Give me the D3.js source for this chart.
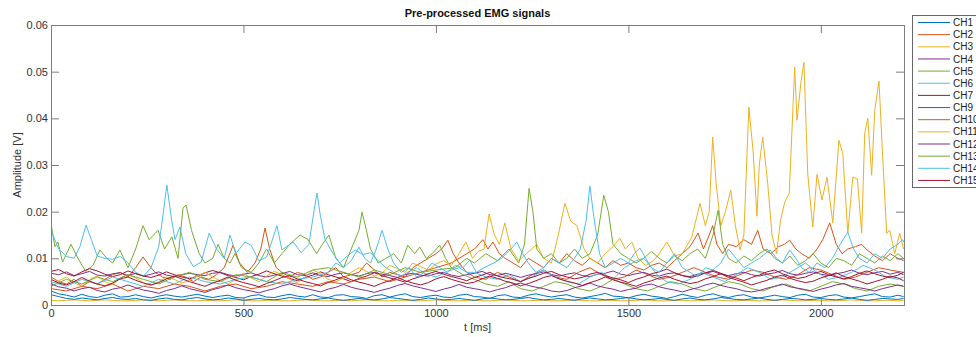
<!DOCTYPE html>
<html>
<head>
<meta charset="utf-8">
<script src="https://cdn.jsdelivr.net/npm/d3@7"></script>
<style>
  body { margin: 0; background: #fff; }
  svg { display: block; }
  text { font-family: "Liberation Sans", Arial, Helvetica, sans-serif; }
</style>
</head>
<body>
<svg id="chart" width="976" height="337"></svg>
<script>
// Pre-processed EMG signals, 14 channels (CH8 absent)
const channels = ["CH1", "CH2", "CH3", "CH4", "CH5", "CH6", "CH7", "CH9",
                  "CH10", "CH11", "CH12", "CH13", "CH14", "CH15"];
const palette = ["#0072BD", "#D95319", "#EDB120", "#7E2F8E", "#77AC30", "#4DBEEE", "#A2142F"];
const xTicks = [0, 500, 1000, 1500, 2000];
const yTicks = [0, 0.01, 0.02, 0.03, 0.04, 0.05, 0.06];
const tEnd = 2216;

// Amplitudes are stored in units of 0.1 mV
const UNIT = 1e-4;

// Steady channels share a 20 ms sample grid (last sample at 2215 ms)
const gridTimes = d3.range(0, 2181, 20).concat([2200, 2215]);

const ch1 = [
  30,24,21,17,23,18,16,21,24,17,  18,22,18,15,19,22,19,17,20,23,
  19,16,19,21,16,15,20,22,17,16,  20,23,19,17,22,17,16,21,22,18,
  17,14,20,22,17,21,24,18,16,19,  21,17,16,21,23,18,17,14,20,22,
  17,16,21,24,20,17,20,22,17,15,  18,21,25,19,18,15,20,23,19,17,
  14,18,23,19,16,21,24,19,16,20,  22,17,15,18,21,18,16,21,23,17,
  16,20,22,17,15,18,21,24,18,17,  21,18
];
const ch3 = [
  10,9,10,11,10,9,10,11,10,9,  9,10,11,10,9,10,11,10,9,9,
  10,9,9,10,11,10,9,9,10,10,  9,9,10,11,10,9,9,10,10,9,
  10,11,10,9,9,10,10,9,9,10,  11,10,9,9,10,10,9,9,10,11,
  10,9,9,10,10,9,9,10,11,10,  9,9,10,10,9,9,10,11,10,9,
  9,10,10,9,9,10,11,10,9,9,  10,10,9,9,10,11,10,9,9,10,
  10,9,9,10,11,10,9,9,10,10,  9,10
];
const ch4 = [
  68,65,71,63,67,72,64,62,67,69,  63,68,62,66,71,64,61,65,68,65,
  63,68,70,65,62,66,69,63,60,64,  67,72,65,63,69,63,61,66,69,65,
  62,67,70,66,63,59,65,68,64,62,  67,70,64,61,65,68,72,65,63,68,
  64,59,64,67,71,65,62,66,69,63,  61,66,68,73,66,63,67,70,64,62,
  67,69,63,61,66,68,72,66,63,67,  70,65,62,66,69,74,67,64,68,71,
  66,63,67,70,75,68,65,69,72,66,  70,65
];
const ch7 = [
  72,76,67,62,71,78,73,66,61,65,  73,67,62,59,64,71,65,60,56,62,
  69,74,69,63,59,54,61,66,73,67,  62,57,52,59,64,71,65,60,56,50,
  57,62,69,63,58,54,49,56,61,67,  72,66,61,57,52,59,64,70,62,58,
  55,50,57,62,68,72,65,60,56,59,  66,70,63,58,54,48,55,60,67,71,
  77,69,63,59,62,69,74,68,62,58,  52,59,64,71,75,67,61,57,60,67,
  72,65,60,56,61,68,73,67,62,59,  64,70
];
const ch9 = [
  22,18,14,12,15,13,11,14,16,13,  12,14,11,10,13,15,12,11,14,16,
  13,11,12,15,13,10,12,14,12,11,  13,16,14,12,11,13,15,12,10,12,
  14,12,11,13,16,14,12,10,12,15,  13,11,12,14,12,10,13,15,13,11,
  12,14,16,13,11,12,14,12,10,13,  15,13,11,12,14,16,13,11,12,14,
  12,10,13,15,12,11,13,16,14,12,  11,13,15,12,10,12,14,13,11,12,
  14,12,11,13,15,12,10,12,14,13,  12,14
];
const ch12 = [
  45,39,36,30,35,38,31,28,34,37,  43,37,32,29,25,31,35,41,35,31,
  27,33,37,43,37,33,30,26,31,35,  41,45,40,36,32,28,34,38,44,38,
  34,31,27,32,36,42,46,41,37,33,  29,34,38,44,38,35,32,28,33,37,
  43,47,42,38,35,30,28,31,37,41,  47,41,37,34,29,33,36,42,45,39,
  35,32,28,33,37,43,47,42,38,35,  30,28,31,36,40,45,39,36,33,29,
  34,38,43,46,40,37,34,30,35,39,  43,40
];
const ch15 = [
  55,47,43,50,59,51,45,41,47,56,  60,53,47,43,48,56,62,56,50,45,
  40,47,53,60,53,48,44,39,46,52,  59,63,56,50,46,41,48,54,61,54,
  49,45,40,47,52,59,52,47,43,48,  56,61,55,50,46,49,56,62,57,51,
  47,41,46,52,59,63,56,51,47,42,  48,53,60,54,49,45,40,47,52,58,
  62,55,50,46,49,56,61,67,59,54,  49,43,48,53,60,64,57,52,48,51,
  58,63,69,61,56,51,45,50,55,62,  58,52
];

// Bursting channels: [time in ms, amplitude]
const ch2 = [
  [0,60],[20,50],[40,45],[60,55],[80,40],[100,50],[120,45],[140,55],[160,65],[180,70],
  [200,60],[220,80],[239,103],[255,85],[270,70],[290,60],[310,55],[330,65],[350,60],[370,50],
  [390,60],[410,55],[430,65],[450,80],[473,128],[490,90],[510,70],[530,90],[545,120],[556,165],
  [568,120],[585,80],[600,70],[620,60],[640,70],[660,65],[680,55],[700,60],[720,70],[740,80],
  [760,60],[780,65],[800,70],[820,90],[840,75],[860,60],[880,70],[900,65],[920,60],[940,80],
  [960,90],[980,100],[1000,110],[1015,120],[1031,139],[1045,110],[1060,90],[1080,70],[1100,60],[1130,55],
  [1160,70],[1190,60],[1220,50],[1250,65],[1280,75],[1310,60],[1340,55],[1370,70],[1400,80],[1430,65],
  [1460,55],[1490,60],[1520,75],[1550,65],[1580,55],[1610,60],[1640,70],[1670,80],[1700,70],[1730,60],
  [1760,55],[1790,65],[1820,75],[1850,70],[1880,60],[1910,55],[1940,65],[1970,80],[2000,75],[2030,65],
  [2060,55],[2090,60],[2120,70],[2150,80],[2180,75],[2215,70]
];
const ch5 = [
  [0,175],[10,125],[18,135],[30,92],[52,130],[70,100],[90,72],[110,86],[127,118],[145,100],
  [160,90],[179,118],[200,80],[220,120],[239,170],[255,140],[278,160],[295,120],[314,146],[330,100],
  [343,208],[351,214],[365,160],[385,110],[400,90],[420,100],[434,130],[450,100],[465,90],[478,110],
  [495,80],[520,70],[540,90],[560,120],[580,90],[600,110],[620,130],[647,150],[668,140],[690,110],
  [705,130],[722,150],[740,100],[760,80],[780,120],[800,160],[808,199],[818,165],[830,120],[850,90],
  [870,100],[890,110],[910,90],[927,128],[945,110],[958,124],[975,100],[990,110],[1010,128],[1025,100],
  [1040,80],[1070,65],[1100,55],[1130,45],[1160,40],[1190,50],[1220,35],[1250,30],[1280,40],[1310,50],
  [1340,45],[1370,35],[1400,30],[1430,40],[1460,55],[1490,45],[1520,35],[1550,30],[1580,40],[1610,50],
  [1640,45],[1670,35],[1700,30],[1730,40],[1760,50],[1790,45],[1820,35],[1850,30],[1880,40],[1910,45],
  [1940,35],[1970,30],[2000,40],[2030,50],[2060,45],[2090,35],[2120,30],[2150,40],[2180,45],[2215,40]
];
const ch6 = [
  [0,160],[20,120],[40,104],[60,100],[75,125],[91,171],[105,140],[120,105],[140,100],[160,98],
  [180,104],[200,90],[220,70],[240,62],[260,80],[280,125],[292,200],[301,257],[312,190],[322,140],
  [335,167],[350,110],[370,82],[390,92],[411,154],[430,120],[450,100],[465,150],[480,110],[504,135],
  [520,128],[540,95],[560,102],[587,170],[600,118],[629,135],[650,112],[670,130],[683,200],[691,240],
  [700,190],[712,140],[733,110],[750,90],[770,105],[790,118],[810,108],[830,112],[850,95],[870,80],
  [890,70],[910,62],[930,72],[950,80],[970,68],[1000,60],[1030,72],[1060,80],[1080,70],[1100,70],
  [1130,60],[1160,55],[1190,65],[1220,50],[1250,60],[1280,75],[1310,60],[1340,50],[1370,45],[1400,60],
  [1430,70],[1460,55],[1490,80],[1520,95],[1540,100],[1560,80],[1580,60],[1600,50],[1630,45],[1660,55],
  [1690,70],[1720,60],[1750,50],[1780,65],[1810,80],[1840,70],[1870,55],[1900,60],[1930,75],[1960,90],
  [1990,70],[2020,55],[2050,60],[2080,70],[2110,85],[2140,75],[2170,60],[2200,55],[2215,60]
];
const ch10 = [
  [0,35],[40,30],[80,40],[120,35],[160,45],[200,30],[240,40],[280,35],[320,45],[360,40],
  [400,30],[440,40],[480,45],[520,35],[560,40],[600,50],[640,45],[680,40],[720,50],[760,45],
  [800,55],[840,60],[880,50],[920,60],[960,70],[1000,80],[1040,90],[1060,100],[1080,110],[1100,120],
  [1122,140],[1135,120],[1148,135],[1165,110],[1180,100],[1200,90],[1220,80],[1240,100],[1260,90],[1280,80],
  [1300,100],[1320,90],[1340,110],[1360,95],[1380,85],[1400,100],[1420,90],[1440,80],[1460,95],[1480,85],
  [1500,90],[1520,80],[1540,75],[1560,85],[1580,90],[1600,80],[1620,95],[1640,110],[1660,125],[1681,154],
  [1695,120],[1710,150],[1719,170],[1730,130],[1745,110],[1760,130],[1780,125],[1800,140],[1820,130],[1836,160],
  [1850,120],[1870,110],[1890,125],[1905,130],[1919,139],[1935,120],[1950,110],[1970,100],[1990,120],[2005,140],
  [2023,176],[2040,130],[2055,110],[2070,120],[2090,125],[2106,130],[2120,118],[2140,105],[2160,95],[2180,110],
  [2200,100],[2215,95]
];
const ch11 = [
  [0,45],[20,52],[40,60],[60,48],[80,40],[100,55],[120,62],[140,50],[160,44],[180,58],
  [200,65],[220,58],[240,48],[260,42],[280,50],[300,60],[320,55],[340,47],[360,52],[380,62],
  [400,70],[420,60],[440,52],[460,45],[480,55],[500,68],[520,58],[540,50],[560,62],[580,72],
  [600,65],[620,55],[640,48],[660,60],[680,75],[700,68],[720,55],[740,50],[760,58],[780,70],
  [800,80],[820,72],[840,62],[860,68],[880,85],[900,78],[920,70],[940,90],[960,82],[980,75],
  [1000,88],[1020,95],[1040,85],[1060,110],[1078,135],[1095,100],[1110,115],[1125,120],[1138,195],[1152,150],
  [1165,130],[1179,176],[1195,120],[1215,95],[1235,110],[1262,130],[1280,100],[1300,90],[1318,150],[1335,218],
  [1350,180],[1366,170],[1385,120],[1400,100],[1420,90],[1440,110],[1460,125],[1478,143],[1492,120],[1509,135],
  [1525,100],[1545,85],[1565,95],[1580,110],[1600,135],[1620,105],[1640,110],[1665,146],[1686,218],[1700,170],
  [1710,200],[1719,360],[1728,260],[1740,170],[1752,200],[1766,246],[1778,170],[1790,118],[1800,150],[1813,424],
  [1824,330],[1834,190],[1840,300],[1849,360],[1862,260],[1873,150],[1885,110],[1895,180],[1906,220],[1918,240],
  [1932,510],[1938,396],[1948,475],[1956,520],[1966,280],[1979,167],[1990,280],[2003,225],[2016,274],[2031,176],
  [2047,353],[2057,325],[2070,154],[2083,274],[2095,270],[2106,154],[2114,368],[2122,400],[2132,278],[2140,417],
  [2151,480],[2161,310],[2171,154],[2179,160],[2192,110],[2205,154],[2215,120]
];
const ch13 = [
  [0,40],[40,55],[80,45],[120,60],[160,50],[200,65],[240,55],[280,45],[320,60],[360,70],
  [400,55],[440,50],[480,65],[520,60],[560,50],[600,70],[640,60],[680,75],[720,80],[760,70],
  [800,60],[840,75],[880,65],[920,80],[960,70],[1000,75],[1050,80],[1080,100],[1100,90],[1130,110],
  [1160,95],[1190,120],[1215,90],[1230,130],[1242,250],[1252,200],[1262,120],[1280,100],[1300,110],[1320,90],
  [1340,100],[1360,120],[1380,100],[1400,110],[1420,150],[1436,235],[1448,200],[1460,130],[1480,110],[1500,100],
  [1520,90],[1540,100],[1560,115],[1580,100],[1600,90],[1620,105],[1640,95],[1660,110],[1680,120],[1700,100],
  [1720,150],[1733,203],[1745,130],[1760,100],[1780,90],[1800,105],[1820,95],[1840,110],[1860,120],[1880,100],
  [1900,90],[1920,105],[1940,85],[1960,95],[1980,110],[2000,90],[2020,80],[2040,100],[2060,95],[2080,85],
  [2100,110],[2120,100],[2140,90],[2160,105],[2180,95],[2200,110],[2215,100]
];
const ch14 = [
  [0,50],[40,40],[80,55],[120,45],[160,60],[200,50],[240,40],[280,55],[320,45],[360,60],
  [400,50],[440,45],[480,55],[520,60],[560,50],[600,45],[640,55],[680,60],[720,70],[740,90],
  [760,80],[780,95],[800,124],[815,100],[830,90],[845,120],[860,160],[875,120],[890,90],[910,70],
  [930,80],[950,60],[970,70],[990,90],[1010,80],[1030,70],[1050,85],[1070,80],[1088,96],[1105,70],
  [1125,80],[1150,90],[1170,100],[1195,120],[1210,135],[1225,110],[1240,90],[1260,70],[1280,80],[1300,100],
  [1320,90],[1340,80],[1360,100],[1375,120],[1390,180],[1400,255],[1410,190],[1425,110],[1440,80],[1460,90],
  [1480,100],[1500,90],[1515,110],[1530,122],[1545,100],[1560,80],[1580,70],[1600,90],[1620,110],[1640,80],
  [1660,70],[1680,60],[1700,80],[1720,75],[1740,90],[1760,120],[1780,100],[1800,80],[1820,90],[1840,100],
  [1855,110],[1868,118],[1885,100],[1900,90],[1919,118],[1935,100],[1950,80],[1970,70],[1990,90],[2010,80],
  [2030,100],[2050,130],[2070,156],[2085,120],[2100,100],[2120,90],[2140,110],[2160,100],[2180,120],[2200,130],
  [2213,140],[2215,135]
];

const onGrid = arr => gridTimes.map((t, i) => [t, arr[i]]);
const channelData = [
  onGrid(ch1), ch2, onGrid(ch3), onGrid(ch4), ch5, ch6, onGrid(ch7), onGrid(ch9),
  ch10, ch11, onGrid(ch12), ch13, ch14, onGrid(ch15)
];
const series = channels.map((name, i) => ({
  name,
  color: palette[i % palette.length],
  points: channelData[i].map(([t, v]) => ({ t, v: v * UNIT }))
}));

// Layout
const svg = d3.select("#chart");
const plot = { left: 51, right: 904, top: 25, bottom: 305 };
const axisColor = "#7d7d7d";
const textColor = "#333";

const x = d3.scaleLinear().domain([0, tEnd]).range([plot.left, plot.right]);
const y = d3.scaleLinear().domain([0, 0.06]).range([plot.bottom, plot.top]);

svg.append("defs").append("clipPath").attr("id", "plot-clip")
  .append("rect")
  .attr("x", plot.left).attr("y", plot.top)
  .attr("width", plot.right - plot.left).attr("height", plot.bottom - plot.top);

const line = d3.line().x(d => x(d.t)).y(d => y(d.v));

svg.append("g").attr("clip-path", "url(#plot-clip)")
  .selectAll("path").data(series).join("path")
  .attr("fill", "none")
  .attr("stroke", d => d.color)
  .attr("stroke-width", 1)
  .attr("stroke-linejoin", "round")
  .attr("d", d => line(d.points));

// Axes: a box with inward ticks on all four sides
const tickLen = 8;
const fmtY = d => d === 0 ? "0" : d3.format(".2f")(d);

const bottomAxis = d3.axisBottom(x).tickValues(xTicks).tickSize(-tickLen).tickPadding(4).tickFormat(d3.format("d"));
const topAxis = d3.axisTop(x).tickValues(xTicks).tickSize(-tickLen).tickFormat("");
const leftAxis = d3.axisLeft(y).tickValues(yTicks).tickSize(-tickLen).tickPadding(3).tickFormat(fmtY);
const rightAxis = d3.axisRight(y).tickValues(yTicks).tickSize(-tickLen).tickFormat("");

function styleAxis(g) {
  g.select(".domain").attr("stroke", axisColor).attr("stroke-width", 1);
  g.selectAll(".tick line").attr("stroke", axisColor);
  g.selectAll(".tick text").attr("fill", textColor).style("font-size", "11px")
    .style("font-family", '"Liberation Sans", Arial, sans-serif');
}

svg.append("g").attr("transform", `translate(0,${plot.bottom})`).call(bottomAxis).call(styleAxis);
svg.append("g").attr("transform", `translate(0,${plot.top})`).call(topAxis).call(styleAxis);
svg.append("g").attr("transform", `translate(${plot.left},0)`).call(leftAxis).call(styleAxis);
svg.append("g").attr("transform", `translate(${plot.right},0)`).call(rightAxis).call(styleAxis);

// Titles
const cx = (plot.left + plot.right) / 2;
svg.append("text").attr("x", cx).attr("y", 17).attr("text-anchor", "middle")
  .attr("font-size", 11).attr("font-weight", "bold").attr("fill", "#111")
  .text("Pre-processed EMG signals");
svg.append("text").attr("x", cx).attr("y", 331).attr("text-anchor", "middle")
  .attr("font-size", 11).attr("fill", textColor).text("t [ms]");
svg.append("text")
  .attr("transform", `translate(21,${(plot.top + plot.bottom) / 2}) rotate(-90)`)
  .attr("text-anchor", "middle").attr("font-size", 11).attr("fill", textColor)
  .text("Amplitude [V]");

// Legend
const legend = svg.append("g").attr("transform", "translate(912,15)");
const rowH = 12.15;
legend.append("rect")
  .attr("x", 0.5).attr("y", 0.5).attr("width", 90).attr("height", 172)
  .attr("fill", "#fff").attr("stroke", "#666").attr("stroke-width", 1);
const rows = legend.selectAll("g.row").data(series).join("g")
  .attr("class", "row")
  .attr("transform", (d, i) => `translate(0,${7.5 + i * rowH})`);
rows.append("line")
  .attr("x1", 6).attr("x2", 38).attr("y1", 0).attr("y2", 0)
  .attr("stroke", d => d.color).attr("stroke-width", 1);
rows.append("text")
  .attr("x", 41).attr("y", 3.6)
  .attr("font-size", 10).attr("fill", "#222")
  .text(d => d.name);
</script>
</body>
</html>
